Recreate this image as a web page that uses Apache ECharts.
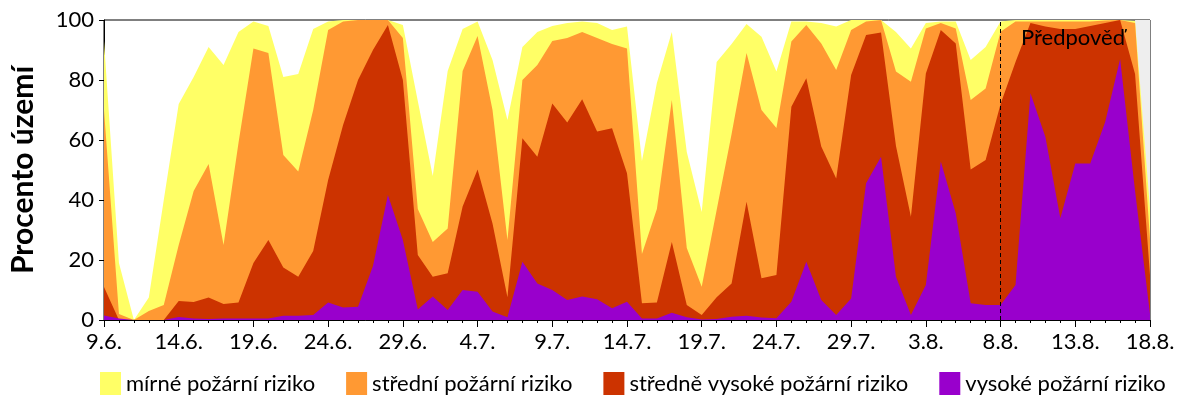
<!DOCTYPE html>
<html>
<head>
<meta charset="utf-8">
<script src="https://cdn.jsdelivr.net/npm/echarts@6/dist/echarts.min.js"></script>
<style>
  html, body { margin: 0; padding: 0; background: #fff; }
  #chart { width: 1200px; height: 400px; }
</style>
</head>
<body>
<div id="chart"></div>
<script>
// dny 9.6. - 18.8.
var days = ['9.6.','10.6.','11.6.','12.6.','13.6.','14.6.','15.6.','16.6.','17.6.','18.6.',
  '19.6.','20.6.','21.6.','22.6.','23.6.','24.6.','25.6.','26.6.','27.6.','28.6.',
  '29.6.','30.6.','1.7.','2.7.','3.7.','4.7.','5.7.','6.7.','7.7.','8.7.',
  '9.7.','10.7.','11.7.','12.7.','13.7.','14.7.','15.7.','16.7.','17.7.','18.7.',
  '19.7.','20.7.','21.7.','22.7.','23.7.','24.7.','25.7.','26.7.','27.7.','28.7.',
  '29.7.','30.7.','31.7.','1.8.','2.8.','3.8.','4.8.','5.8.','6.8.','7.8.',
  '8.8.','9.8.','10.8.','11.8.','12.8.','13.8.','14.8.','15.8.','16.8.','17.8.','18.8.'];

// horni hranice jednotlivych urovni (kumulativne, % uzemi)
var mirne = [93,19,0,7.5,40,72,81,91,85,96,
  99.5,98,81,82,97,99.5,100,100,100,100,
  98.3,73,48,83,97,99.5,86.7,66.7,91,96,
  98,99,99.5,99,96.7,97.8,53,79,96,56,
  36,86,92,98.7,94.4,82.8,99.5,99.5,99,97.8,
  100,100,100,96,90.5,99,99.5,99.5,86.7,91,
  99.5,100,100,100,100,100,100,100,100,99.7,37];
var stredni = [70,2,0,3,5,25,43,52,25,59,
  90.5,89,55,49.5,70,96.7,99.5,100,100,100,
  94,37,26,30.5,83,94.7,70,26.7,80,85,
  93,94,96,94,92,90.5,22,37,73.3,24,
  11.1,36.7,62,89,70,64,92.8,98.3,92.2,83.3,
  96.7,99.5,100,82.8,79.4,97.2,99,97.2,73.3,77.2,
  96.1,99.5,99.5,99.5,99.5,99.5,99.5,99.8,100,99,27];
var stredneVysoke = [11,0,0,0,0,6.3,6,7.5,5.3,5.8,
  19,26.7,17.5,14.4,23,46.7,65,80,90,98.3,
  80,21.7,14.4,15.6,37.8,50.2,32.2,7.6,60.6,54.4,
  72.2,65.8,73.6,62.8,63.9,48.9,5.6,5.8,26,5,
  1.7,7.6,12.2,39.4,13.9,15,71.1,80.6,57.8,47.2,
  81.7,95,95.8,58,34.4,82.2,96.7,92.2,50.2,53.3,
  72,86,99,97.8,97,97,98,99,100,82,15];
var vysoke = [1.5,0.5,0,0,0,1,0.5,0.3,0.5,0.5,
  0.5,0.5,1.4,1.4,1.7,5.8,4.2,4.4,18,41.7,
  26.7,3.5,7.8,3.3,10,9.4,2.8,0.9,19.4,12.2,
  10,6.7,7.8,6.9,3.9,6.1,0.5,0.5,2.4,0.9,
  0.2,0.3,1.1,1.4,0.8,0.6,6.1,19.4,6.7,1.7,
  7.2,45.6,54.4,14.4,1.7,11.7,52.8,35.6,5.6,5,
  5,11.7,75.6,61,33.9,52.2,52.2,66,87,43,2];

var names = ['mírné požární riziko', 'střední požární riziko',
  'středně vysoké požární riziko', 'vysoké požární riziko'];
var colors = ['#ffff66', '#ff9933', '#cc3300', '#9900cc'];
var forecastStart = '8.8.';

var font = 'Lato, "Noto Sans", sans-serif';

function areaSeries(idx, data, z) {
    return {
        name: names[idx],
        type: 'line',
        data: data,
        z: z,
        showSymbol: false,
        symbol: 'none',
        silent: true,
        lineStyle: {width: 0},
        itemStyle: {color: colors[idx]},
        areaStyle: {color: colors[idx], opacity: 1}
    };
}

var option = {
    animation: false,
    backgroundColor: '#fff',
    textStyle: {fontFamily: font, color: '#000'},
    grid: {
        left: 101, right: 50, top: 20, bottom: 80,
        show: true, borderColor: '#000', borderWidth: 1, backgroundColor: 'transparent'
    },
    legend: {
        data: names,
        left: 100,
        top: 372,
        width: 1100,
        padding: 0,
        icon: 'rect',
        itemWidth: 21,
        itemHeight: 23,
        itemGap: 31,
        textStyle: {fontFamily: font, fontSize: 22, color: '#000'}
    },
    xAxis: [
        {
            type: 'category',
            data: days,
            boundaryGap: false,
            axisLine: {lineStyle: {color: '#000', width: 1}},
            axisTick: {interval: 4, length: 7, lineStyle: {color: '#000'}},
            axisLabel: {interval: 4, fontSize: 22, color: '#000', fontFamily: font, margin: 11},
            splitLine: {show: false}
        },
        {
            type: 'category',
            data: days,
            boundaryGap: false,
            position: 'bottom',
            axisLine: {show: false},
            axisTick: {interval: 0, length: 3, lineStyle: {color: '#000'}},
            axisLabel: {show: false},
            splitLine: {show: false}
        }
    ],
    yAxis: {
        type: 'value',
        min: 0,
        max: 100,
        interval: 20,
        name: 'Procento území',
        nameLocation: 'middle',
        nameGap: 66,
        nameTextStyle: {fontFamily: font, fontSize: 30, fontWeight: 'bold', color: '#000'},
        axisLine: {show: true, lineStyle: {color: '#000', width: 1}},
        axisTick: {show: true, length: 5, lineStyle: {color: '#000'}},
        axisLabel: {fontSize: 22, color: '#000', fontFamily: font, margin: 10},
        splitLine: {show: false}
    },
    graphic: [{
        type: 'text',
        left: 1021,
        top: 27,
        z: 100,
        style: {text: 'Předpověď', fontFamily: font, fontSize: 22, fill: '#000'}
    }],
    series: [
        {
            name: 'bez dat',
            type: 'line',
            data: [],
            z: 1,
            silent: true,
            markArea: {
                silent: true,
                itemStyle: {color: '#eeeeee'},
                data: [[{xAxis: days[days.length - 2]}, {xAxis: days[days.length - 1]}]]
            }
        },
        areaSeries(0, mirne, 3),
        areaSeries(1, stredni, 4),
        areaSeries(2, stredneVysoke, 5),
        areaSeries(3, vysoke, 6),
        {
            name: 'predpoved',
            type: 'line',
            data: [],
            z: 20,
            silent: true,
            markLine: {
                silent: true,
                z: 20,
                symbol: ['none', 'none'],
                label: {show: false},
                lineStyle: {color: '#000', type: [4, 3], width: 1},
                data: [{xAxis: forecastStart}]
            }
        }
    ]
};

var mychart = echarts.init(document.getElementById('chart'));
mychart.setOption(option);
</script>
</body>
</html>
